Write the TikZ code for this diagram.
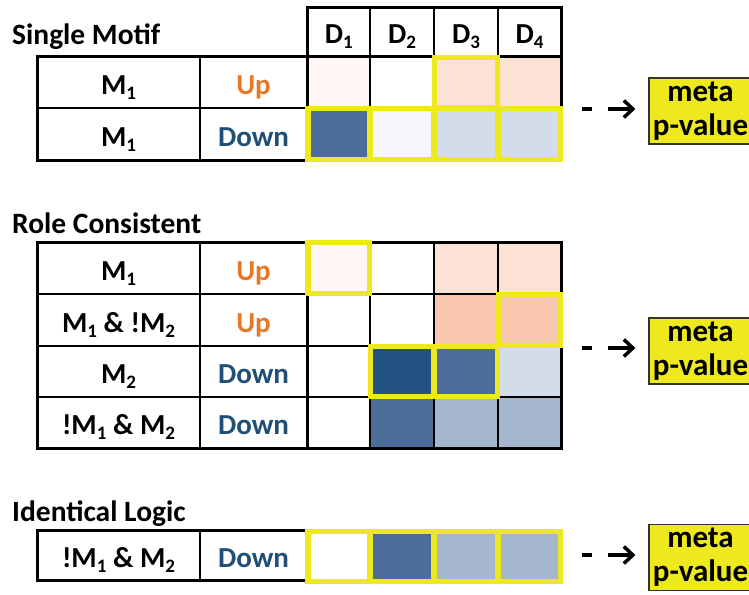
\documentclass[tikz,border=0pt]{standalone}
\usepackage{fontspec}
\setmainfont{Carlito}
\usetikzlibrary{arrows.meta}
\definecolor{ylw}{RGB}{238,232,30}
\definecolor{upc}{RGB}{232,119,40}
\definecolor{dnc}{RGB}{31,78,121}
\definecolor{pinkA}{RGB}{255,247,245}
\definecolor{peach}{RGB}{252,226,213}
\definecolor{salmon}{RGB}{249,198,174}
\definecolor{blueD}{RGB}{35,83,131}
\definecolor{blueM}{RGB}{74,109,153}
\definecolor{blueL}{RGB}{166,182,206}
\definecolor{blueP}{RGB}{211,221,233}
\definecolor{blueW}{RGB}{245,247,251}
\newcommand\sbs[1]{\raisebox{-5pt}{\fontsize{19}{19}\selectfont #1}}
\newcommand\cellf[5]{\fill[#5] (#1,#2) rectangle (#3,#4);}
\newcommand\yfr[4]{\draw[yframe] (#1+0.5,#2+0.5) rectangle (#3-0.5,#4-0.5);}
\begin{document}
\begin{tikzpicture}[x=1pt,y=-1pt,
  txt/.style={anchor=base, inner sep=0pt, font=\fontsize{29}{34}\selectfont\bfseries},
  ttl/.style={anchor=base west, inner sep=0pt, font=\fontsize{29.5}{34}\selectfont\bfseries},
  outer/.style={line width=3pt},
  inner/.style={line width=1.3pt},
  yframe/.style={draw=ylw, line width=5.5pt},
  metabox/.style={draw=black!80, line width=1.2pt, fill=ylw, minimum width=103pt, minimum height=66pt, inner sep=0pt, align=center, font=\fontsize{31}{34}\selectfont\bfseries},
  conn/.style={line width=3.5pt, dash pattern=on 10pt off 16pt on 60pt off 10pt, shorten >=13pt, -{Straight Barb[length=9pt,width=17pt]}}
]
\useasboundingbox (0,0) rectangle (749,594);

% ---------------- Single Motif ----------------
\node[ttl] (t1) at (12,45) {Single Motif};
\cellf{307.5}{57}{370}{108}{pinkA}
\cellf{434}{57}{498}{108}{peach}
\cellf{498}{57}{561}{108}{peach}
\cellf{307.5}{108}{370}{160}{blueM}
\cellf{370}{108}{434}{160}{blueW}
\cellf{434}{108}{498}{160}{blueP}
\cellf{498}{108}{561}{160}{blueP}
% header
\draw[outer] (307.5,57) -- (307.5,7.5) -- (561,7.5) -- (561,57);
\foreach \x in {370,434,498} \draw[inner] (\x,7.5) -- (\x,160);
\draw[inner] (37,108) -- (561,108);
\draw[line width=2pt] (200,57) -- (200,160);
\draw[line width=2.5pt] (307.5,57) -- (307.5,160);
\draw[outer] (37,57) rectangle (561,160);
\node[txt] (h1) at (338.75,44) {D\sbs{1}};
\node[txt] (h2) at (402,44) {D\sbs{2}};
\node[txt] (h3) at (466,44) {D\sbs{3}};
\node[txt] (h4) at (529.5,44) {D\sbs{4}};
\node[txt] (s1a) at (118.5,94.5) {M\sbs{1}};
\node[txt,text=upc] (s1b) at (253.5,94.5) {Up};
\node[txt] (s2a) at (118.5,146) {M\sbs{1}};
\node[txt,text=dnc] (s2b) at (253.5,146) {Down};
\yfr{434}{57}{498}{108}
\yfr{307.5}{108}{370}{160}
\yfr{370}{108}{434}{160}
\yfr{434}{108}{498}{160}
\yfr{498}{108}{561}{160}
\node[metabox] (m1) at (700.5,111) {meta\\p-value};
\coordinate (a1) at (582,109);
\draw[conn] (a1) -- (a1 -| m1.west);

% ---------------- Role Consistent ----------------
\node[ttl] (t2) at (12,233) {Role Consistent};
\cellf{307.5}{242}{370}{294}{pinkA}
\cellf{434}{242}{498}{294}{peach}
\cellf{498}{242}{561}{294}{peach}
\cellf{434}{294}{498}{346}{salmon}
\cellf{498}{294}{561}{346}{salmon}
\cellf{370}{346}{434}{397}{blueD}
\cellf{434}{346}{498}{397}{blueM}
\cellf{498}{346}{561}{397}{blueP}
\cellf{370}{397}{434}{448}{blueM}
\cellf{434}{397}{498}{448}{blueL}
\cellf{498}{397}{561}{448}{blueL}
\foreach \y in {294,346,397} \draw[inner] (37,\y) -- (561,\y);
\foreach \x in {200,370,434,498} \draw[inner] (\x,242) -- (\x,448);
\draw[line width=2.5pt] (307.5,242) -- (307.5,448);
\draw[outer] (37,242) rectangle (561,448);
\node[txt] (r1a) at (118.5,280) {M\sbs{1}};
\node[txt,text=upc] (r1b) at (253.5,280) {Up};
\node[txt] (r2a) at (118.5,332) {M\sbs{1} \& !M\sbs{2}};
\node[txt,text=upc] (r2b) at (253.5,332) {Up};
\node[txt] (r3a) at (118.5,383.5) {M\sbs{2}};
\node[txt,text=dnc] (r3b) at (253.5,383.5) {Down};
\node[txt] (r4a) at (118.5,434.5) {!M\sbs{1} \& M\sbs{2}};
\node[txt,text=dnc] (r4b) at (253.5,434.5) {Down};
\yfr{307.5}{242}{370}{294}
\yfr{498}{294}{561}{346}
\yfr{370}{346}{434}{397}
\yfr{434}{346}{498}{397}
\node[metabox] (m2) at (700.5,351) {meta\\p-value};
\coordinate (a2) at (582,348);
\draw[conn] (a2) -- (a2 -| m2.west);

% ---------------- Identical Logic ----------------
\node[ttl] (t3) at (12,521) {Identical Logic};
\cellf{370}{530}{434}{580}{blueM}
\cellf{434}{530}{498}{580}{blueL}
\cellf{498}{530}{561}{580}{blueL}
\draw[inner] (200,530) -- (200,580);
\draw[outer] (37,530) rectangle (561,580);
\node[txt] (i1a) at (118.5,567) {!M\sbs{1} \& M\sbs{2}};
\node[txt,text=dnc] (i1b) at (253.5,567) {Down};
\yfr{307.5}{531}{370}{582}
\yfr{370}{531}{434}{582}
\yfr{434}{531}{498}{582}
\yfr{498}{531}{561}{582}
\node[metabox] (m3) at (700.5,557.5) {meta\\p-value};
\coordinate (a3) at (582,555);
\draw[conn] (a3) -- (a3 -| m3.west);
\end{tikzpicture}
\end{document}
